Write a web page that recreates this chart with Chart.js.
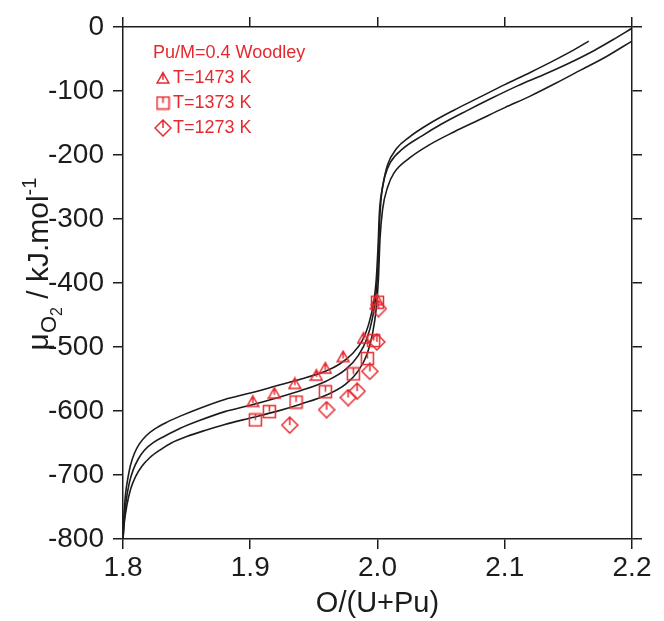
<!DOCTYPE html>
<html>
<head>
<meta charset="utf-8">
<script src="https://cdn.jsdelivr.net/npm/chart.js@4.4.0/dist/chart.umd.min.js"></script>
<style>
  html, body { margin: 0; padding: 0; background: #fff; }
  canvas { display: block; }
</style>
</head>
<body>
<canvas id="muChart" width="664" height="621"></canvas>
<script>
// axis ticks
const xTicks = [1.8, 1.9, 2.0, 2.1, 2.2];
const yTicks = [0, -100, -200, -300, -400, -500, -600, -700, -800];

// model curves, O/(U+Pu) vs oxygen potential (kJ/mol)
const curve1473X = [1.8, 1.8008, 1.802, 1.804, 1.806, 1.809, 1.813, 1.818, 1.825, 1.835, 1.845, 1.86, 1.88, 1.90, 1.92, 1.94, 1.96, 1.97, 1.98, 1.988, 1.993, 1.997, 1.999, 2.0005, 2.0015, 2.004, 2.008, 2.015, 2.025, 2.04, 2.06, 2.08, 2.10, 2.12, 2.14, 2.155, 2.166];
const curve1473Y = [-800, -760, -730, -703, -684, -666, -651, -639, -628, -617, -608, -596, -582, -572, -561, -550, -537, -527, -511, -490, -465, -430, -395, -340, -290, -250, -215, -190, -172, -152, -130, -110, -90, -71, -51, -35, -22];

const curve1373X = [1.8, 1.801, 1.8025, 1.805, 1.808, 1.812, 1.817, 1.824, 1.833, 1.845, 1.86, 1.88, 1.90, 1.92, 1.94, 1.96, 1.975, 1.985, 1.992, 1.996, 1.999, 2.0005, 2.0015, 2.003, 2.006, 2.01, 2.02, 2.035, 2.05, 2.07, 2.09, 2.11, 2.13, 2.15, 2.17, 2.185, 2.2];
const curve1373Y = [-800, -768, -740, -712, -692, -675, -661, -649, -639, -627, -615, -601, -591, -580, -568, -553, -535, -513, -485, -455, -415, -370, -310, -265, -232, -212, -190, -170, -152, -131, -111, -92, -75, -57, -37, -20, -2];

const curve1273X = [1.8, 1.801, 1.803, 1.806, 1.81, 1.815, 1.821, 1.829, 1.838, 1.85, 1.865, 1.88, 1.90, 1.92, 1.94, 1.96, 1.975, 1.985, 1.992, 1.996, 1.999, 2.0007, 2.002, 2.004, 2.008, 2.013, 2.025, 2.04, 2.06, 2.08, 2.10, 2.12, 2.14, 2.16, 2.18, 2.2];
const curve1273Y = [-800, -775, -748, -722, -702, -686, -673, -661, -650, -640, -630, -621, -611, -601, -589, -575, -558, -537, -510, -480, -440, -395, -330, -285, -250, -228, -205, -185, -164, -145, -126, -108, -88, -67, -46, -22];

// Woodley measurements, Pu/M = 0.4
const woodley1473X = [1.902, 1.919, 1.935, 1.952, 1.959, 1.973, 1.989, 1.9997];
const woodley1473Y = [-585, -572, -557, -544, -533, -515, -486, -426];
const woodley1373X = [1.904, 1.915, 1.936, 1.959, 1.981, 1.992, 1.997, 2.0];
const woodley1373Y = [-614, -601, -586, -570, -542, -518, -490, -430];
const woodley1273X = [1.931, 1.960, 1.977, 1.984, 1.994, 1.9995, 2.0007];
const woodley1273Y = [-622, -598, -579, -569, -538, -492, -440];

const seriesLabels = ["T=1473 K", "T=1373 K", "T=1273 K"];
const legendTitle = "Pu/M=0.4 Woodley";

const RED = "#e52a2f";
const INK = "#1c1c1c";
const FONT = "'Liberation Sans', Arial, sans-serif";

function pts(xs, ys) {
  return xs.map((x, i) => ({ x, y: ys[i] }));
}

// small marker bitmaps: outline + short stem from the top to the centre
function makeMarker(kind) {
  const s = kind === "diamond" ? 18 : kind === "square" ? 15 : 14;
  const c = document.createElement("canvas");
  c.width = s; c.height = s;
  const g = c.getContext("2d");
  g.strokeStyle = RED;
  g.lineWidth = 1.5;
  g.beginPath();
  if (kind === "triangle") {
    g.moveTo(s / 2, 1.5);
    g.lineTo(s - 1.2, s - 2);
    g.lineTo(1.2, s - 2);
    g.closePath();
    g.moveTo(s / 2, 1.5);
    g.lineTo(s / 2, s * 0.62);
  } else if (kind === "square") {
    g.rect(1.5, 1.5, s - 3, s - 3);
    g.moveTo(s / 2, 1.5);
    g.lineTo(s / 2, s / 2);
  } else {
    g.moveTo(s / 2, 1);
    g.lineTo(s - 1, s / 2);
    g.lineTo(s / 2, s - 1);
    g.lineTo(1, s / 2);
    g.closePath();
    g.moveTo(s / 2, 1);
    g.lineTo(s / 2, s / 2);
  }
  g.stroke();
  return c;
}

const markers = [makeMarker("triangle"), makeMarker("square"), makeMarker("diamond")];

function curveSet(xs, ys) {
  return {
    data: pts(xs, ys),
    showLine: true,
    borderColor: INK,
    borderWidth: 1.6,
    pointRadius: 0,
    cubicInterpolationMode: "monotone",
    order: 2
  };
}

function markerSet(xs, ys, i) {
  return {
    label: seriesLabels[i],
    data: pts(xs, ys),
    showLine: false,
    pointStyle: markers[i],
    pointRadius: 6,
    order: 1
  };
}

const tickFont = { family: FONT, size: 28 };

function frameAxis(pos, size, showLabels) {
  const horiz = pos === "top" || pos === "bottom";
  return {
    type: "linear",
    position: pos,
    min: horiz ? 1.8 : -800,
    max: horiz ? 2.2 : 0,
    afterBuildTicks: (s) => {
      s.ticks = (horiz ? xTicks : yTicks).map((v) => ({ value: v }));
    },
    afterFit: (s) => {
      if (horiz) s.height = size; else s.width = size;
    },
    ticks: {
      display: showLabels,
      font: tickFont,
      color: INK,
      padding: horiz ? 2 : 9,
      maxRotation: 0,
      autoSkip: false,
      callback: (v) => (horiz ? Number(v).toFixed(1) : String(v))
    },
    grid: { drawOnChartArea: false, drawTicks: true, tickLength: 10, color: INK, lineWidth: 1.5 },
    border: { display: true, color: INK, width: 1.5 }
  };
}

// legend box in the upper-left of the plot, plus the y-axis title with sub/superscripts
const annotations = {
  id: "annotations",
  afterDraw(chart) {
    const ctx = chart.ctx;
    ctx.save();
    ctx.fillStyle = RED;
    ctx.textBaseline = "middle";
    ctx.textAlign = "left";
    ctx.font = "18px " + FONT;
    ctx.fillText(legendTitle, 153, 53);
    seriesLabels.forEach((lab, i) => {
      const y = 78 + i * 25;
      const m = markers[i];
      ctx.drawImage(m, 163 - m.width / 2, y - m.height / 2);
      ctx.fillText(lab, 173, y);
    });
    ctx.restore();

    const parts = [
      { t: "\u03bc", size: 30, dy: 0 },
      { t: "O", size: 22, dy: 8 },
      { t: "2", size: 16, dy: 14 },
      { t: " / kJ.mol", size: 30, dy: 0 },
      { t: "-1", size: 20, dy: -12 }
    ];
    ctx.save();
    ctx.fillStyle = INK;
    ctx.textBaseline = "alphabetic";
    ctx.textAlign = "left";
    let total = 0;
    parts.forEach((p) => {
      ctx.font = p.size + "px " + FONT;
      p.w = ctx.measureText(p.t).width;
      total += p.w;
    });
    ctx.translate(48, 264);
    ctx.rotate(-Math.PI / 2);
    let x = -total / 2;
    parts.forEach((p) => {
      ctx.font = p.size + "px " + FONT;
      ctx.fillText(p.t, x, p.dy);
      x += p.w;
    });
    ctx.restore();
  }
};

const xAxis = frameAxis("bottom", 82, true);
xAxis.title = {
  display: true,
  text: "O/(U+Pu)",
  font: { family: FONT, size: 29 },
  color: INK,
  padding: { top: 0, bottom: 0 }
};

new Chart(document.getElementById("muChart"), {
  type: "scatter",
  data: {
    datasets: [
      curveSet(curve1473X, curve1473Y),
      curveSet(curve1373X, curve1373Y),
      curveSet(curve1273X, curve1273Y),
      markerSet(woodley1473X, woodley1473Y, 0),
      markerSet(woodley1373X, woodley1373Y, 1),
      markerSet(woodley1273X, woodley1273Y, 2)
    ]
  },
  options: {
    responsive: false,
    animation: false,
    layout: { padding: 0 },
    plugins: { legend: { display: false }, tooltip: { enabled: false } },
    scales: {
      x: xAxis,
      x2: frameAxis("top", 27, false),
      y: frameAxis("left", 123, true),
      y2: frameAxis("right", 32, false)
    }
  },
  plugins: [annotations]
});
</script>
</body>
</html>
